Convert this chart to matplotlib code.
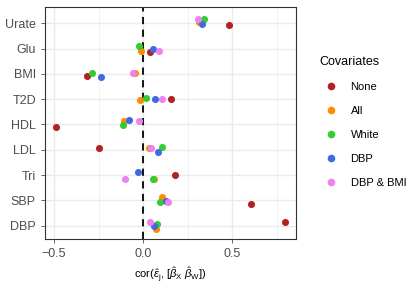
import matplotlib.pyplot as plt
from matplotlib.lines import Line2D

plt.rcParams["font.family"] = ["Liberation Sans", "DejaVu Sans"]
plt.rcParams["mathtext.fontset"] = "custom"
plt.rcParams["mathtext.rm"] = "Liberation Sans"
plt.rcParams["mathtext.it"] = "Liberation Sans:italic"

# traits, bottom to top
traits = ["DBP", "SBP", "Tri", "LDL", "HDL", "T2D", "BMI", "Glu", "Urate"]
covariates = ["None", "All", "White", "DBP", "DBP & BMI"]
colors = ["#B22222", "#FF8C00", "#32CD32", "#4169E1", "#EE82EE"]

# correlation values per covariate set, ordered as traits
cor_none = [0.796, 0.607, 0.178, -0.249, -0.489, 0.157, -0.315, 0.036, 0.482]
cor_all = [0.073, 0.107, 0.063, 0.032, -0.105, -0.019, -0.045, -0.011, 0.313]
cor_white = [0.079, 0.094, 0.058, 0.105, -0.112, 0.019, -0.287, -0.024, 0.341]
cor_dbp = [0.060, 0.129, -0.026, 0.081, -0.079, 0.067, -0.236, 0.054, 0.331]
cor_dbp_bmi = [0.041, 0.137, -0.101, 0.047, -0.024, 0.107, -0.054, 0.088, 0.309]

# vertical jitter
jit_none = [0.13, -0.13, 0.01, 0.07, -0.09, 0.00, -0.07, -0.13, -0.08]
jit_all = [-0.13, 0.13, -0.15, 0.07, 0.13, -0.04, 0.02, -0.09, 0.03]
jit_white = [0.05, -0.07, -0.15, 0.09, -0.04, 0.04, 0.02, 0.08, 0.16]
jit_dbp = [-0.01, -0.03, 0.12, -0.08, 0.19, 0.01, -0.11, -0.02, -0.03]
jit_dbp_bmi = [0.16, -0.07, -0.15, 0.08, 0.12, 0.01, 0.04, -0.11, 0.17]

series = [cor_none, cor_all, cor_white, cor_dbp, cor_dbp_bmi]
jitters = [jit_none, jit_all, jit_white, jit_dbp, jit_dbp_bmi]


def main():
    fig = plt.figure(figsize=(4.17, 2.92), dpi=100)
    ax = fig.add_axes([0.108, 0.182, 0.602, 0.794])

    ypos = list(range(1, len(traits) + 1))
    for vals, jit, col in zip(series, jitters, colors):
        ax.scatter(vals, [y + j for y, j in zip(ypos, jit)],
                   s=26, color=col, linewidths=0, zorder=3)

    ax.axvline(0, color="black", linestyle=(0, (4, 3)), linewidth=1.3, zorder=2)

    ax.set_xlim(-0.55, 0.858)
    ax.set_ylim(0.48, 9.64)
    ax.set_yticks(ypos)
    ax.set_yticklabels(traits)
    ax.set_xticks([-0.5, 0.0, 0.5])
    ax.set_xticklabels(["\u22120.5", "0.0", "0.5"])
    ax.set_xticks([-0.25, 0.25, 0.75], minor=True)
    ax.tick_params(axis="both", which="major", labelsize=9, colors="#4D4D4D",
                   length=3, width=0.6)
    ax.tick_params(axis="x", which="minor", length=0)
    ax.grid(which="major", color="#EBEBEB", linewidth=1.0, zorder=0)
    ax.grid(which="minor", axis="x", color="#EBEBEB", linewidth=0.5, zorder=0)
    ax.set_axisbelow(True)
    for spine in ax.spines.values():
        spine.set_color("#333333")
        spine.set_linewidth(0.8)

    ax.set_xlabel(r"cor($\hat{\varepsilon}_{\mathrm{j}}$, [$\hat{\beta}_{\mathrm{X}}$ $\hat{\beta}_{\mathrm{W}}$])",
                  fontsize=8, labelpad=4)

    handles = [Line2D([], [], marker="o", linestyle="", color=c, markersize=5.5,
                      markeredgewidth=0) for c in colors]
    fig.legend(handles, covariates, title="Covariates", loc="upper left",
               bbox_to_anchor=(0.742, 0.842), frameon=False, fontsize=8,
               title_fontsize=9, handletextpad=0.8, labelspacing=1.25,
               alignment="left")

    fig.savefig("out.png", dpi=100)
    plt.close(fig)


if __name__ == "__main__":
    main()
